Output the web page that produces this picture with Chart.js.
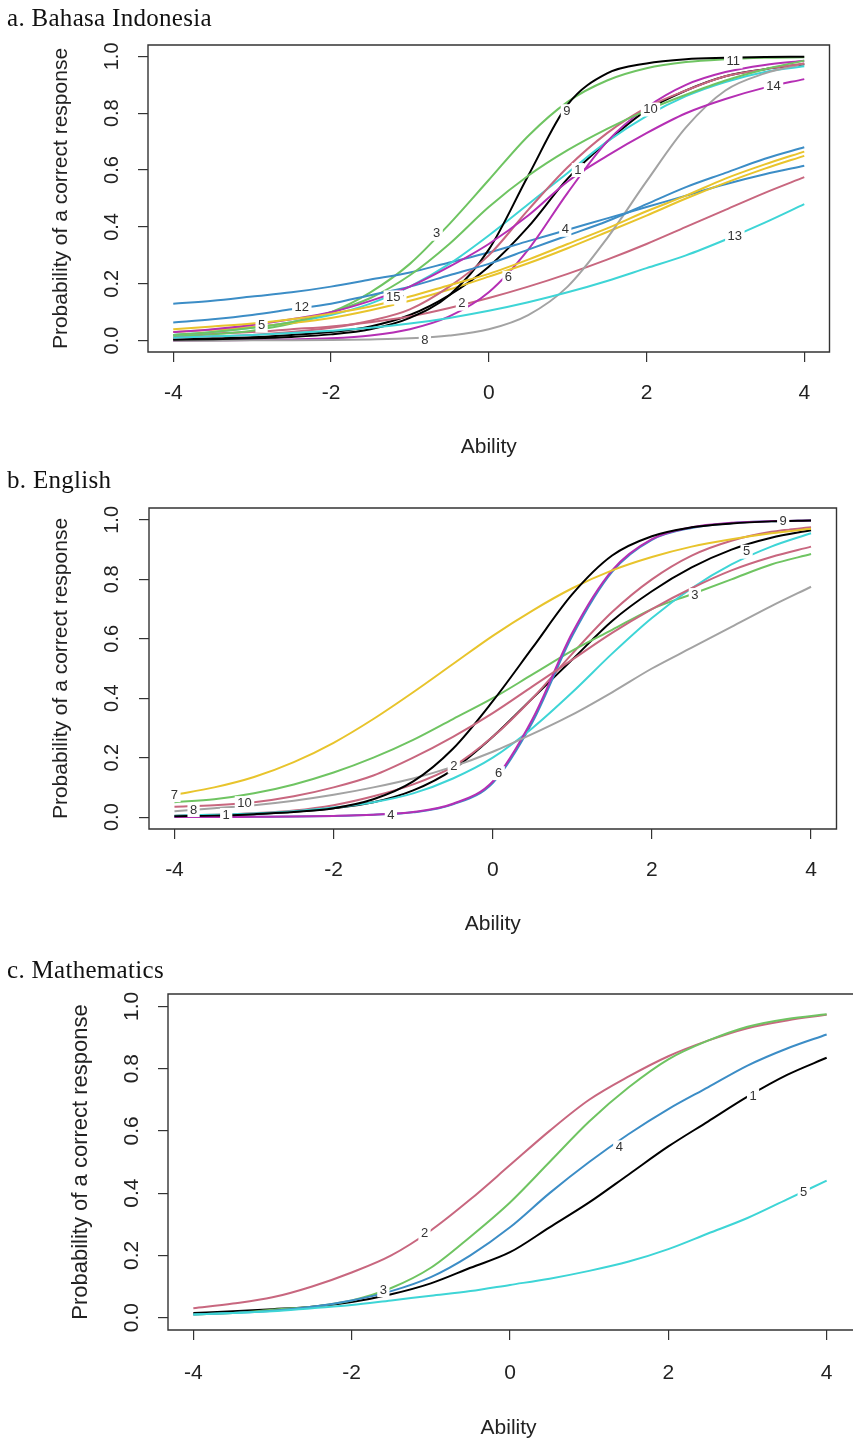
<!DOCTYPE html>
<html>
<head>
<meta charset="utf-8">
<script src="https://cdn.jsdelivr.net/npm/chart.js@4.4.1/dist/chart.umd.min.js"></script>
<style>
  body { margin: 0; background: #fff; width: 853px; height: 1443px; position: relative; overflow: hidden; }
  .panel { position: absolute; left: 0; }
  .ttl { position: absolute; left: 7px; font: 25px 'Liberation Serif', serif; letter-spacing: 0.3px; color: #111; line-height: 1; white-space: nowrap; }
</style>
</head>
<body>
<div class="panel" style="top:0px"><canvas id="chartA" width="853" height="462"></canvas></div>
<div class="panel" style="top:462px"><canvas id="chartB" width="853" height="477"></canvas></div>
<div class="panel" style="top:939px"><canvas id="chartC" width="853" height="504"></canvas></div>
<div class="ttl" style="top:5px">a. Bahasa Indonesia</div>
<div class="ttl" style="top:467px">b. English</div>
<div class="ttl" style="top:957px">c. Mathematics</div>
<script>
// Item characteristic curves, every half unit of ability

const ability = [-4, -3.5, -3, -2.5, -2, -1.5, -1, -0.5, 0, 0.5, 1, 1.5, 2, 2.5, 3, 3.5, 4];
const xTicks = [-4, -2, 0, 2, 4];
const yTicks = [0, 0.2, 0.4, 0.6, 0.8, 1.0];
const yTickText = ['0.0', '0.2', '0.4', '0.6', '0.8', '1.0'];

// a. Bahasa Indonesia, items 1-15
const indo1  = [0.005, 0.008, 0.012, 0.02, 0.03, 0.05, 0.09, 0.16, 0.26, 0.40, 0.57, 0.70, 0.81, 0.88, 0.93, 0.955, 0.972];
const indo2  = [0.02, 0.025, 0.03, 0.04, 0.05, 0.065, 0.085, 0.115, 0.15, 0.19, 0.235, 0.285, 0.34, 0.40, 0.46, 0.52, 0.575];
const indo3  = [0.015, 0.022, 0.035, 0.06, 0.10, 0.17, 0.27, 0.41, 0.565, 0.72, 0.84, 0.915, 0.958, 0.98, 0.99, 0.995, 0.997];
const indo4  = [0.13, 0.14, 0.155, 0.17, 0.19, 0.215, 0.24, 0.275, 0.31, 0.35, 0.39, 0.43, 0.47, 0.51, 0.55, 0.585, 0.615];
const indo5  = [0.02, 0.03, 0.045, 0.065, 0.09, 0.13, 0.19, 0.27, 0.37, 0.48, 0.59, 0.70, 0.79, 0.86, 0.91, 0.945, 0.965];
const indo6  = [0.0, 0.001, 0.002, 0.004, 0.008, 0.018, 0.04, 0.085, 0.17, 0.32, 0.52, 0.70, 0.82, 0.90, 0.945, 0.97, 0.985];
const indo7  = [0.03, 0.038, 0.048, 0.062, 0.08, 0.107, 0.14, 0.18, 0.225, 0.272, 0.325, 0.382, 0.44, 0.50, 0.555, 0.605, 0.65];
const indo8  = [0.0, 0.0, 0.001, 0.001, 0.002, 0.004, 0.008, 0.018, 0.04, 0.09, 0.19, 0.36, 0.56, 0.75, 0.88, 0.94, 0.975];
const indo9  = [0.003, 0.005, 0.008, 0.013, 0.022, 0.04, 0.08, 0.16, 0.32, 0.58, 0.83, 0.94, 0.975, 0.99, 0.995, 0.998, 0.999];
const indo10 = [0.01, 0.015, 0.02, 0.03, 0.045, 0.07, 0.11, 0.19, 0.30, 0.46, 0.61, 0.73, 0.82, 0.88, 0.93, 0.955, 0.975];
const indo11 = [0.02, 0.03, 0.045, 0.065, 0.10, 0.15, 0.23, 0.34, 0.47, 0.58, 0.67, 0.745, 0.81, 0.865, 0.915, 0.955, 0.985];
const indo12 = [0.064, 0.075, 0.09, 0.11, 0.13, 0.16, 0.19, 0.23, 0.27, 0.32, 0.37, 0.42, 0.48, 0.54, 0.59, 0.64, 0.68];
const indo13 = [0.01, 0.015, 0.02, 0.027, 0.035, 0.045, 0.06, 0.08, 0.105, 0.135, 0.17, 0.21, 0.255, 0.30, 0.355, 0.415, 0.48];
const indo14 = [0.03, 0.04, 0.055, 0.075, 0.10, 0.14, 0.19, 0.26, 0.34, 0.44, 0.56, 0.65, 0.73, 0.80, 0.85, 0.89, 0.92];
const indo15 = [0.04, 0.05, 0.06, 0.075, 0.095, 0.12, 0.155, 0.195, 0.235, 0.285, 0.34, 0.395, 0.455, 0.51, 0.57, 0.62, 0.665];
// where each item number sits on its curve
const indoLabelX = [1.13, -0.34, -0.66, 0.97, -2.88, 0.25, -1.12, -0.81, 0.99, 2.05, 3.10, -2.37, 3.12, 3.61, -1.21];
const indoLabelP = [0.60, 0.13, 0.376, 0.39, 0.053, 0.221, 0.14, 0.0, 0.807, 0.813, 0.982, 0.117, 0.368, 0.895, 0.152];

// b. English, items 1-10
const eng1  = [0.004, 0.006, 0.01, 0.018, 0.03, 0.05, 0.09, 0.16, 0.27, 0.40, 0.53, 0.66, 0.76, 0.84, 0.90, 0.94, 0.965];
const eng2  = [0.005, 0.008, 0.013, 0.022, 0.04, 0.07, 0.11, 0.17, 0.27, 0.40, 0.55, 0.69, 0.80, 0.88, 0.93, 0.96, 0.975];
const eng3  = [0.05, 0.06, 0.08, 0.11, 0.15, 0.20, 0.26, 0.33, 0.40, 0.48, 0.56, 0.63, 0.70, 0.75, 0.80, 0.85, 0.885];
const eng4  = [0.0, 0.0, 0.001, 0.002, 0.004, 0.008, 0.016, 0.043, 0.115, 0.32, 0.61, 0.825, 0.933, 0.973, 0.989, 0.995, 0.998];
const eng5  = [0.005, 0.008, 0.012, 0.02, 0.032, 0.05, 0.08, 0.13, 0.20, 0.30, 0.42, 0.55, 0.67, 0.77, 0.85, 0.91, 0.955];
const eng6  = [0.0, 0.0, 0.001, 0.002, 0.004, 0.008, 0.017, 0.045, 0.12, 0.33, 0.62, 0.83, 0.935, 0.975, 0.99, 0.996, 0.998];
const eng7  = [0.075, 0.10, 0.135, 0.185, 0.25, 0.33, 0.42, 0.515, 0.61, 0.695, 0.77, 0.83, 0.875, 0.91, 0.935, 0.955, 0.97];
const eng8  = [0.02, 0.03, 0.04, 0.055, 0.075, 0.10, 0.13, 0.17, 0.22, 0.28, 0.345, 0.42, 0.50, 0.57, 0.64, 0.71, 0.775];
const eng9  = [0.003, 0.005, 0.01, 0.017, 0.03, 0.06, 0.12, 0.23, 0.39, 0.57, 0.75, 0.88, 0.945, 0.975, 0.988, 0.995, 0.998];
const eng10 = [0.035, 0.04, 0.05, 0.07, 0.10, 0.14, 0.20, 0.27, 0.35, 0.44, 0.53, 0.62, 0.70, 0.77, 0.83, 0.875, 0.91];
const engLabelX = [-3.35, -0.49, 2.54, -1.28, 3.19, 0.075, -4.0, -3.76, 3.65, -3.12];
const engLabelP = [0.007, 0.17, 0.747, 0.007, 0.893, 0.148, 0.074, 0.024, 0.994, 0.047];

// c. Mathematics, items 1-5
const math1 = [0.015, 0.02, 0.027, 0.035, 0.05, 0.075, 0.11, 0.16, 0.21, 0.29, 0.37, 0.46, 0.55, 0.63, 0.71, 0.78, 0.835];
const math2 = [0.03, 0.045, 0.065, 0.10, 0.145, 0.20, 0.28, 0.38, 0.49, 0.60, 0.70, 0.775, 0.84, 0.89, 0.93, 0.955, 0.973];
const math3 = [0.01, 0.015, 0.025, 0.035, 0.055, 0.095, 0.16, 0.26, 0.37, 0.50, 0.63, 0.74, 0.83, 0.89, 0.935, 0.96, 0.975];
const math4 = [0.01, 0.015, 0.022, 0.035, 0.055, 0.085, 0.13, 0.20, 0.29, 0.40, 0.50, 0.59, 0.67, 0.74, 0.81, 0.865, 0.91];
const math5 = [0.01, 0.015, 0.02, 0.03, 0.04, 0.055, 0.07, 0.085, 0.105, 0.125, 0.15, 0.18, 0.22, 0.27, 0.32, 0.38, 0.44];
const mathLabelX = [3.07, -1.08, -1.60, 1.38, 3.71];
const mathLabelP = [0.712, 0.27, 0.088, 0.547, 0.403];

// R-style palette, item i takes colour (i-1) mod 8
const palette = ['#000000', '#C8677F', '#6FC462', '#3C8DC6', '#3ED5D6', '#B52FB4', '#E8C42C', '#A3A3A3'];

const FONT = "'Liberation Sans', Arial, sans-serif";

// frame round the plot region, like R's box()
const boxPlugin = {
    id: 'box',
    afterDraw(chart, args, opts) {
        const a = chart.chartArea;
        const ctx = chart.ctx;
        ctx.save();
        ctx.strokeStyle = '#333';
        ctx.lineWidth = 1.4;
        ctx.beginPath();
        if (opts.open) {
            ctx.moveTo(chart.width + 2, a.top);
            ctx.lineTo(a.left, a.top);
            ctx.lineTo(a.left, a.bottom);
            ctx.lineTo(chart.width + 2, a.bottom);
        } else {
            ctx.rect(a.left, a.top, a.right - a.left, a.bottom - a.top);
        }
        ctx.stroke();
        ctx.restore();
    }
};

// y tick labels run parallel to the axis
const yTextPlugin = {
    id: 'yText',
    afterDraw(chart, args, opts) {
        const ys = chart.scales.y;
        const ctx = chart.ctx;
        ctx.save();
        ctx.fillStyle = '#222';
        ctx.font = opts.size + 'px ' + FONT;
        ctx.textAlign = 'center';
        ctx.textBaseline = 'middle';
        yTicks.forEach((v, i) => {
            ctx.save();
            ctx.translate(opts.x, ys.getPixelForValue(v));
            ctx.rotate(-Math.PI / 2);
            ctx.fillText(yTickText[i], 0, 0);
            ctx.restore();
        });
        ctx.restore();
    }
};

// item numbers written into the curves
const curveLabelPlugin = {
    id: 'curveLabels',
    afterDatasetsDraw(chart, args, opts) {
        const xs = chart.scales.x;
        const ys = chart.scales.y;
        const ctx = chart.ctx;
        ctx.save();
        ctx.font = '13px ' + FONT;
        ctx.textAlign = 'center';
        ctx.textBaseline = 'middle';
        opts.xs.forEach((x, i) => {
            const px = xs.getPixelForValue(x);
            const py = ys.getPixelForValue(opts.ps[i]);
            const txt = String(i + 1);
            const w = ctx.measureText(txt).width + 5;
            ctx.fillStyle = '#fff';
            ctx.fillRect(px - w / 2, py - 7, w, 14);
            ctx.fillStyle = '#333';
            ctx.fillText(txt, px, py);
        });
        ctx.restore();
    }
};

function makePanel(canvasId, series, labX, labP, geo) {
    const datasets = series.map((vals, i) => ({
        label: String(i + 1),
        data: vals.map((p, j) => ({ x: ability[j], y: p })),
        borderColor: palette[i % 8],
        borderWidth: 2,
        pointRadius: 0,
        fill: false,
        cubicInterpolationMode: 'monotone',
        order: series.length - i
    }));

    const tickGrid = { drawOnChartArea: false, drawTicks: true, tickLength: 10, color: '#333', lineWidth: 1.2 };

    return new Chart(document.getElementById(canvasId), {
        type: 'line',
        data: { datasets },
        plugins: [boxPlugin, yTextPlugin, curveLabelPlugin],
        options: {
            responsive: false,
            animation: false,
            events: [],
            layout: { padding: { top: geo.padTop, right: geo.padRight, left: 0, bottom: 0 } },
            plugins: {
                legend: { display: false },
                tooltip: { enabled: false },
                box: { open: geo.open },
                yText: { x: geo.yTickX, size: geo.tickFont },
                curveLabels: { xs: labX, ps: labP }
            },
            scales: {
                x: {
                    type: 'linear',
                    min: geo.xMin,
                    max: geo.xMax,
                    afterBuildTicks: s => { s.ticks = xTicks.map(v => ({ value: v })); },
                    afterFit: s => { s.height = geo.xAxisH; },
                    grid: tickGrid,
                    border: { display: false },
                    ticks: { font: { family: FONT, size: 21 }, color: '#222', padding: geo.xTickPad, maxRotation: 0, autoSkip: false },
                    title: { display: true, text: 'Ability', font: { family: FONT, size: 21 }, color: '#222', padding: { top: 0, bottom: geo.xTitlePad } }
                },
                y: {
                    min: -0.04,
                    max: 1.04,
                    afterBuildTicks: s => { s.ticks = yTicks.map(v => ({ value: v })); },
                    afterFit: s => { s.width = geo.boxLeft; },
                    grid: tickGrid,
                    border: { display: false },
                    ticks: { color: 'rgba(0,0,0,0)', font: { family: FONT, size: geo.tickFont } },
                    title: { display: true, text: 'Probability of a correct response', font: { family: FONT, size: geo.titleFont }, color: '#222', padding: { top: geo.yTitlePad, bottom: 0 } }
                }
            }
        }
    });
}

makePanel('chartA',
    [indo1, indo2, indo3, indo4, indo5, indo6, indo7, indo8, indo9, indo10, indo11, indo12, indo13, indo14, indo15],
    indoLabelX, indoLabelP,
    { padTop: 45, padRight: 23.5, boxLeft: 148, xAxisH: 110, xMin: -4.32, xMax: 4.32,
      xTickPad: 18.5, xTitlePad: 2.5, yTickX: 112, yTitlePad: 49, tickFont: 20, titleFont: 21, open: false });

makePanel('chartB',
    [eng1, eng2, eng3, eng4, eng5, eng6, eng7, eng8, eng9, eng10],
    engLabelX, engLabelP,
    { padTop: 46, padRight: 16.5, boxLeft: 149, xAxisH: 110, xMin: -4.32, xMax: 4.32,
      xTickPad: 18.5, xTitlePad: 2.5, yTickX: 112, yTitlePad: 49, tickFont: 20, titleFont: 21, open: false });

makePanel('chartC',
    [math1, math2, math3, math4, math5],
    mathLabelX, mathLabelP,
    { padTop: 55, padRight: 0, boxLeft: 168, xAxisH: 113, xMin: -4.32, xMax: 4.285,
      xTickPad: 20.5, xTitlePad: 2, yTickX: 132, yTitlePad: 68, tickFont: 21, titleFont: 22, open: true });
</script>
</body>
</html>
